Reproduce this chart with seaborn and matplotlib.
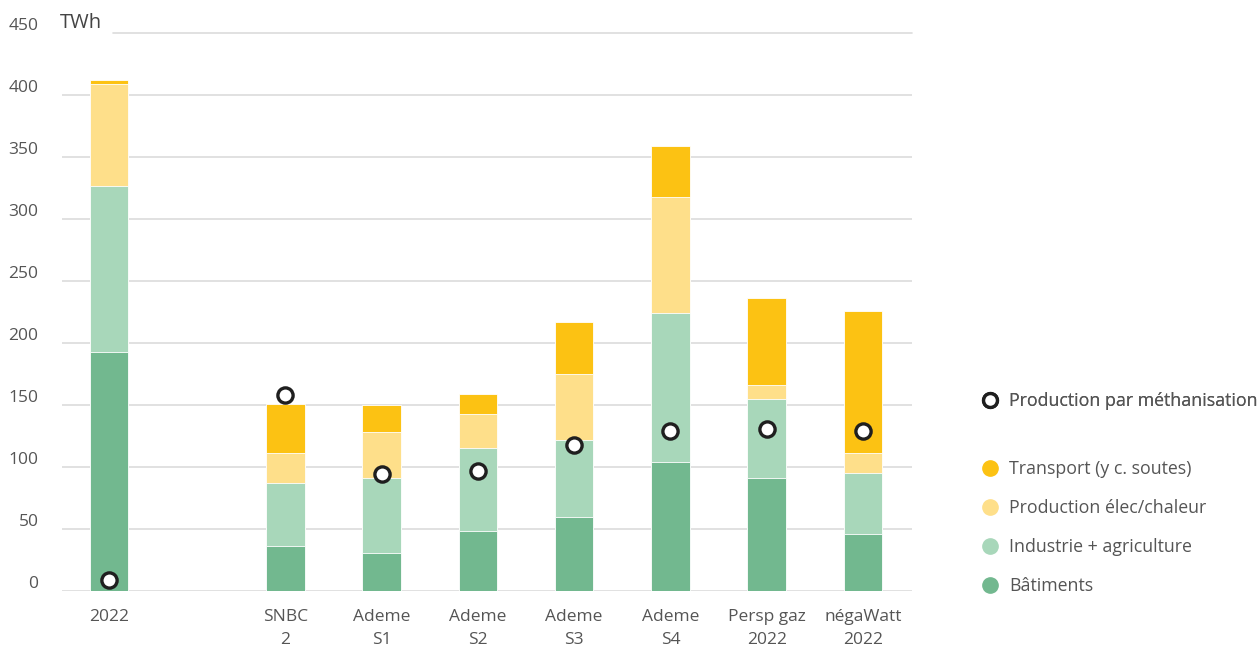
import numpy as np
import pandas as pd
import matplotlib
matplotlib.use("Agg")
import matplotlib.pyplot as plt
import matplotlib.transforms as mtransforms
from matplotlib.lines import Line2D
import seaborn as sns

# ---- data ----
scenarios = ["2022", "SNBC\n2", "Ademe\nS1", "Ademe\nS2", "Ademe\nS3", "Ademe\nS4",
             "Persp gaz\n2022", "négaWatt\n2022"]
positions = [0.0, 1.83, 2.83, 3.83, 4.83, 5.83, 6.83, 7.83]
batiments = [193, 36, 31, 48, 60, 104, 91, 46]
industrie = [134, 51, 60, 67, 62, 120, 64, 49]
prod_elec = [82, 24, 37, 28, 53, 94, 11, 16]
transport = [3, 40, 22, 16, 42, 41, 70, 115]
methanisation = [9, 158, 94, 97, 118, 129, 131, 129]
series_names = ["Bâtiments", "Industrie + agriculture", "Production élec/chaleur",
                "Transport (y c. soutes)"]
meth_name = "Production par méthanisation"
yticks = [0, 50, 100, 150, 200, 250, 300, 350, 400, 450]

colors = {"Bâtiments": "#72B88F", "Industrie + agriculture": "#A8D7BA",
          "Production élec/chaleur": "#FEDF8A", "Transport (y c. soutes)": "#FCC213"}

sns.set_theme(style="white")
plt.rcParams["font.family"] = ["Open Sans", "DejaVu Sans"]
text_color = "#555555"

fig = plt.figure(figsize=(12.6, 6.46), dpi=100)
ax = fig.add_axes([62 / 1260, 55 / 646, (912 - 62) / 1260, (591 - 33) / 646])

df = pd.DataFrame({"pos": positions, "Bâtiments": batiments,
                   "Industrie + agriculture": industrie,
                   "Production élec/chaleur": prod_elec,
                   "Transport (y c. soutes)": transport})
cum = df[series_names].cumsum(axis=1)

for name in reversed(series_names):
    sns.barplot(x=df["pos"], y=cum[name], native_scale=True, color=colors[name],
                width=0.4, errorbar=None, edgecolor="white", linewidth=0.6,
                saturation=1, ax=ax, zorder=2)

sns.scatterplot(x=positions, y=methanisation, s=120, color="white",
                edgecolor="#1f1f1f", linewidth=2.4, ax=ax, zorder=5)

ax.set_ylim(0, 450)
ax.set_xlim(-0.49, 8.34)
ax.set_yticks(yticks)
ax.set_yticklabels([str(v) for v in yticks])
ax.set_xticks(positions)
ax.set_xticklabels(scenarios, linespacing=1.6)
ax.set_xlabel("")
ax.set_ylabel("")
ax.grid(False)
# gridlines (the top one leaves room for the unit label)
for v in yticks[:-1]:
    ax.axhline(v, color="#DCDCDC", linewidth=1.2, zorder=0)
ax.axhline(yticks[-1], xmin=(113 - 62) / 850, color="#DCDCDC", linewidth=1.2,
           zorder=0, clip_on=False)
for s in ax.spines.values():
    s.set_visible(False)
ax.tick_params(axis="y", length=0, pad=17, labelsize=12.5, labelcolor=text_color)
ax.tick_params(axis="x", length=0, pad=13, labelsize=12.5, labelcolor=text_color)
for lbl in ax.get_xticklabels():
    lbl.set_verticalalignment("top")
off = mtransforms.ScaledTranslation(0, 9 / 100, fig.dpi_scale_trans)
for lbl in ax.get_yticklabels():
    lbl.set_transform(lbl.get_transform() + off)

fig.text(60 / 1260, 1 - 23 / 646, "TWh", ha="left", va="center", fontsize=14.5,
         color="#444444")

# legends
h_meth = [Line2D([], [], marker="o", linestyle="none", markersize=10,
                 markerfacecolor="white", markeredgecolor="#1f1f1f",
                 markeredgewidth=2.4)]
leg1 = fig.legend(h_meth, [meth_name], loc="center left",
                  bbox_to_anchor=(981 / 1260, 1 - 401 / 646), frameon=False,
                  fontsize=12.8, handlelength=1.0, handletextpad=0.6,
                  borderpad=0, borderaxespad=0, labelcolor=text_color)
order = list(reversed(series_names))
h_ser = [Line2D([], [], marker="o", linestyle="none", markersize=11,
                markerfacecolor=colors[n], markeredgecolor=colors[n]) for n in order]
leg2 = fig.legend(h_ser, order, loc="upper left",
                  bbox_to_anchor=(981 / 1260, 1 - 460 / 646), frameon=False,
                  fontsize=12.8, handlelength=1.0, handletextpad=0.6,
                  labelspacing=1.18, borderpad=0, borderaxespad=0,
                  labelcolor=text_color)
fig.add_artist(leg1)

fig.savefig("out.png", dpi=100, facecolor="white")
